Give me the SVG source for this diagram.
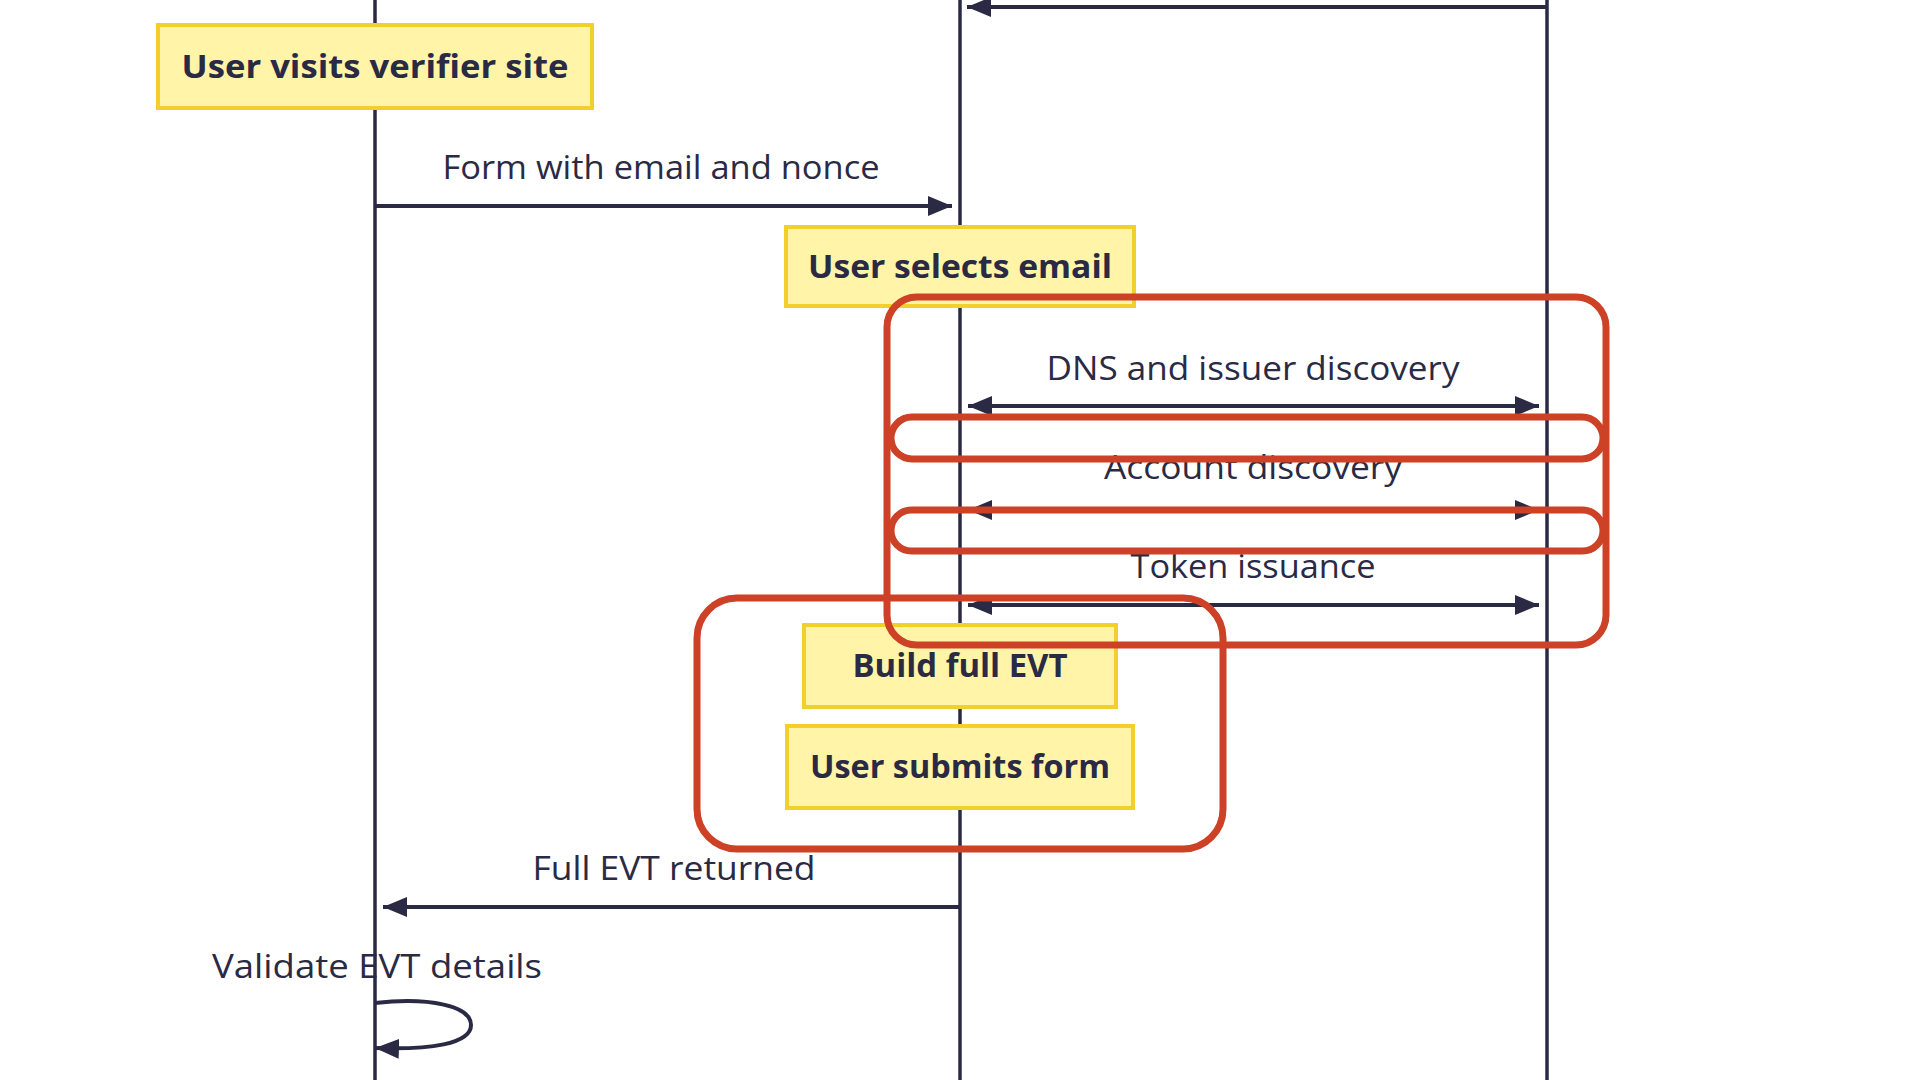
<svg xmlns="http://www.w3.org/2000/svg" width="1920" height="1080" viewBox="0 0 1920 1080">
<style>
.life{stroke:#2a2a44;stroke-width:3.5;fill:none}
.msg{stroke:#2a2a44;stroke-width:4;fill:none}
.note{fill:#fff4a8;stroke:#f3cf2c;stroke-width:4}
.nt{font-family:"Open Sans","Noto Sans",sans-serif;font-weight:700;font-size:33px;fill:#2a2a44;text-anchor:middle}
.lbl{font-family:"Open Sans","Noto Sans",sans-serif;font-weight:400;font-size:33px;fill:#2a2a44;text-anchor:middle}
.hl{fill:none;stroke:#cd4126;stroke-width:7}
</style>
<defs>
<marker id="ah" markerUnits="userSpaceOnUse" markerWidth="26" markerHeight="22" refX="24" refY="10" orient="auto-start-reverse" viewBox="0 0 26 22">
<path d="M0,0 L24,10 L0,20 z" fill="#2a2a44"/>
</marker>
</defs>
<rect width="1920" height="1080" fill="#ffffff"/>
<g id="lifelines">
<line class="life" x1="375" y1="0" x2="375" y2="1080"/>
<line class="life" x1="960" y1="0" x2="960" y2="1080"/>
<line class="life" x1="1547" y1="0" x2="1547" y2="1080"/>
</g>
<g id="connectors">
<line class="msg" x1="1547" y1="7" x2="967" y2="7" marker-end="url(#ah)"/>
<line class="msg" x1="375" y1="206" x2="952" y2="206" marker-end="url(#ah)"/>
<line class="msg" x1="968" y1="406" x2="1539" y2="406" marker-start="url(#ah)" marker-end="url(#ah)"/>
<line class="msg" x1="968" y1="510" x2="1539" y2="510" marker-start="url(#ah)" marker-end="url(#ah)"/>
<line class="msg" x1="968" y1="605" x2="1539" y2="605" marker-start="url(#ah)" marker-end="url(#ah)"/>
<line class="msg" x1="960" y1="907" x2="383" y2="907" marker-end="url(#ah)"/>
<path class="msg" d="M375,1003 C430,997 471,1006 471,1025 C471,1044 430,1050 375,1048" marker-end="url(#ah)"/>
</g>
<g id="labels">
<text class="lbl" x="661" y="179" textLength="437" lengthAdjust="spacingAndGlyphs">Form with email and nonce</text>
<text class="lbl" x="1253" y="380" textLength="413" lengthAdjust="spacingAndGlyphs">DNS and issuer discovery</text>
<text class="lbl" x="1253" y="479" textLength="298" lengthAdjust="spacingAndGlyphs">Account discovery</text>
<text class="lbl" x="1253" y="578" textLength="245" lengthAdjust="spacingAndGlyphs">Token issuance</text>
<text class="lbl" x="674" y="880" textLength="283" lengthAdjust="spacingAndGlyphs">Full EVT returned</text>
<text class="lbl" x="377" y="978" textLength="330" lengthAdjust="spacingAndGlyphs">Validate EVT details</text>
</g>
<g id="note-visits">
<rect class="note" x="158" y="25" width="434" height="83"/>
<text class="nt" x="375" y="78" textLength="387" lengthAdjust="spacingAndGlyphs">User visits verifier site</text>
</g>
<g id="note-selects">
<rect class="note" x="786" y="227" width="348" height="79"/>
<text class="nt" x="960" y="278" textLength="304" lengthAdjust="spacingAndGlyphs">User selects email</text>
</g>
<g id="note-build">
<rect class="note" x="804" y="625" width="312" height="82"/>
<text class="nt" x="960" y="677" textLength="215" lengthAdjust="spacingAndGlyphs">Build full EVT</text>
</g>
<g id="note-submit">
<rect class="note" x="787" y="726" width="346" height="82"/>
<text class="nt" x="960" y="778" textLength="300" lengthAdjust="spacingAndGlyphs">User submits form</text>
</g>
<g id="highlights">
<rect class="hl" x="887" y="297" width="719" height="348" rx="30"/>
<rect class="hl" x="891" y="417" width="712" height="42" rx="21"/>
<rect class="hl" x="891" y="510" width="712" height="41" rx="20.5"/>
<rect class="hl" x="697" y="598" width="526" height="251" rx="40"/>
</g>
</svg>
